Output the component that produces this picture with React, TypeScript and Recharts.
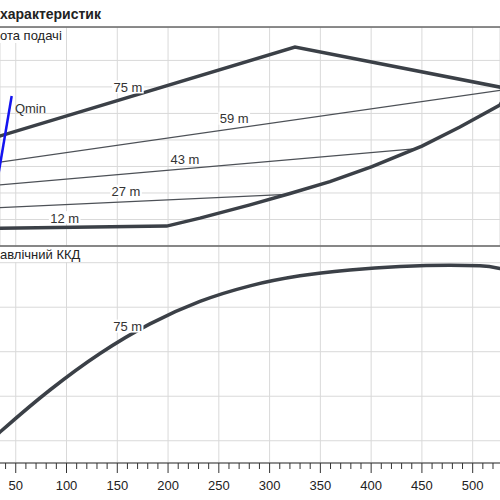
import {
  LineChart,
  Line,
  XAxis,
  YAxis,
  CartesianGrid,
  ReferenceDot,
} from "recharts";

// Flow axis (Q), shared by both panels
const qDomain: [number, number] = [34.5, 526.9];
const qMajorTicks = [50, 100, 150, 200, 250, 300, 350, 400, 450, 500];
const qAllTicks = [
  40, 50, 60, 70, 80, 90, 100, 110, 120, 130, 140, 150, 160, 170, 180, 190,
  200, 210, 220, 230, 240, 250, 260, 270, 280, 290, 300, 310, 320, 330, 340,
  350, 360, 370, 380, 390, 400, 410, 420, 430, 440, 450, 460, 470, 480, 490,
  500, 510, 520,
];

// Висота подачі panel
const headDomain: [number, number] = [0, 82.6];
const headTicks = [10, 20, 30, 40, 50, 60, 70];
const head75 = [[19, 39.7], [325, 75.0], [536.7, 59.2]];
const head59 = [[19, 30.8], [536.7, 59.2]];
const head43 = [[19, 22.5], [442.1, 36.6]];
const head27 = [[19, 14.2], [317.1, 19.5]];
const head12 = [
  [19, 6.6], [198.6, 7.5], [231.4, 10.5], [280.7, 15.5], [320.1, 19.8],
  [359.4, 24.3], [400.8, 29.9], [450, 37.7], [487.4, 44.9], [526.8, 53.2],
  [536.7, 59.2],
];
const qMin = [[32.5, 26.0], [46, 56.6]];

// Гідравлічний ККД panel
const effDomain: [number, number] = [0, 97.5];
const effTicks = [10, 20, 30, 40, 50, 60, 70, 80, 90];
const eff75 = [
  [19, 7.6], [34.5, 13.9], [83.7, 32.8], [133.0, 49.2], [182.2, 62.5],
  [231.4, 72.6], [280.7, 79.6], [329.9, 84.1], [379.1, 86.7], [428.4, 88.3],
  [477.6, 88.9], [507.1, 88.6], [526.8, 87.4], [546.5, 84.9],
];

// curve labels: [text, Q, value]
const headLabels: [string, number, number][] = [
  ["75 m", 160.5, 59.8],
  ["59 m", 265.2, 48.0],
  ["43 m", 216.7, 32.75],
  ["27 m", 158.6, 20.5],
  ["12 m", 98.2, 10.5],
];
const effLabels: [string, number, number][] = [["75 m", 160.2, 61.3]];

const toRows = (pts: number[][]) => pts.map(([q, v]) => ({ q, v }));

const THICK = "#3b4047";
const THIN = "#4d5157";
const GRID = "#d9d9d9";
const TEXT = "#333";
const FONT = '"Liberation Sans", Arial, sans-serif';

function CurveLabel(props: any) {
  const { cx, cy, text, plain } = props;
  const w = text.length * 7.4 + 2;
  return (
    <g>
      {!plain && (
        <rect x={cx - w / 2} y={cy - 7} width={w} height={13} fill="#fff" />
      )}
      <text
        x={cx}
        y={cy}
        dy="0.36em"
        textAnchor="middle"
        fontSize={13}
        fill={TEXT}
        fontFamily={FONT}
      >
        {text}
      </text>
    </g>
  );
}

function QTick(props: any) {
  const { x, y, payload } = props;
  const major = payload.value % 50 === 0;
  return (
    <g>
      <line x1={x} x2={x} y1={y} y2={y + (major ? 10 : 6)} stroke="#333" />
      {major && (
        <text
          x={x}
          y={y + 26.5}
          textAnchor="middle"
          fontSize={13}
          fill="#222"
          fontFamily={FONT}
        >
          {payload.value}
        </text>
      )}
    </g>
  );
}

export default function App() {
  return (
    <div
      style={{
        position: "absolute",
        left: 0,
        top: 0,
        width: 500,
        height: 500,
        overflow: "hidden",
        background: "#fff",
        fontFamily: FONT,
      }}
    >
      {/* head panel */}
      <div style={{ position: "absolute", left: 0, top: 27 }}>
        <LineChart
          width={500}
          height={219}
          margin={{ top: 0, right: 0, bottom: 0, left: 0 }}
        >
          <CartesianGrid stroke={GRID} />
          <XAxis
            type="number"
            dataKey="q"
            domain={qDomain}
            ticks={qMajorTicks}
            allowDataOverflow
            hide
          />
          <YAxis
            type="number"
            domain={headDomain}
            ticks={headTicks}
            allowDataOverflow
            hide
          />
          {headLabels.map(([t, q, v]) => (
            <ReferenceDot
              key={t}
              x={q}
              y={v}
              r={0}
              shape={(p: any) => <CurveLabel {...p} text={t} />}
            />
          ))}
          <ReferenceDot
            x={64.5}
            y={52.1}
            r={0}
            shape={(p: any) => <CurveLabel {...p} text="Qmin" plain />}
          />
          <Line data={toRows(head59)} dataKey="v" stroke={THIN} strokeWidth={1.2} dot={false} isAnimationActive={false} />
          <Line data={toRows(head43)} dataKey="v" stroke={THIN} strokeWidth={1.2} dot={false} isAnimationActive={false} />
          <Line data={toRows(head27)} dataKey="v" stroke={THIN} strokeWidth={1.2} dot={false} isAnimationActive={false} />
          <Line data={toRows(head75)} dataKey="v" stroke={THICK} strokeWidth={3.5} dot={false} isAnimationActive={false} />
          <Line data={toRows(head12)} dataKey="v" stroke={THICK} strokeWidth={3.5} dot={false} isAnimationActive={false} />
          <Line data={toRows(qMin)} dataKey="v" stroke="#1414f0" strokeWidth={2.5} dot={false} isAnimationActive={false} />
        </LineChart>
      </div>

      {/* efficiency panel */}
      <div style={{ position: "absolute", left: 0, top: 246 }}>
        <LineChart
          width={500}
          height={254}
          margin={{ top: 0, right: 0, bottom: 0, left: 0 }}
        >
          <CartesianGrid stroke={GRID} verticalValues={qMajorTicks} />
          <XAxis
            type="number"
            dataKey="q"
            domain={qDomain}
            ticks={qAllTicks}
            interval={0}
            allowDataOverflow
            height={37}
            tickSize={0}
            tickMargin={0}
            tickLine={false}
            axisLine={{ stroke: "#333" }}
            tick={<QTick />}
          />
          <YAxis
            type="number"
            domain={effDomain}
            ticks={effTicks}
            allowDataOverflow
            hide
          />
          {effLabels.map(([t, q, v]) => (
            <ReferenceDot
              key={t}
              x={q}
              y={v}
              r={0}
              shape={(p: any) => <CurveLabel {...p} text={t} />}
            />
          ))}
          <Line data={toRows(eff75)} dataKey="v" type="monotone" stroke={THICK} strokeWidth={3.5} dot={false} isAnimationActive={false} />
        </LineChart>
      </div>

      {/* headers and panel borders */}
      <svg
        width={500}
        height={500}
        style={{ position: "absolute", left: 0, top: 0, pointerEvents: "none" }}
      >
        <text x={0} y={19} fontSize={14} fontWeight="bold" fill="#222" fontFamily={FONT}>
          характеристик
        </text>
        <rect x={0} y={28} width={64} height={15} fill="#fff" />
        <text x={0} y={40} fontSize={13} fill="#222" fontFamily={FONT}>
          ота подачі
        </text>
        <rect x={0} y={247} width={85} height={15} fill="#fff" />
        <text x={0} y={259} fontSize={13} fill="#222" fontFamily={FONT}>
          авлічний ККД
        </text>
        <line x1={0} x2={500} y1={27} y2={27} stroke="#666" strokeWidth={1.5} />
        <line x1={0} x2={500} y1={246} y2={246} stroke="#666" strokeWidth={1.5} />
      </svg>
    </div>
  );
}
